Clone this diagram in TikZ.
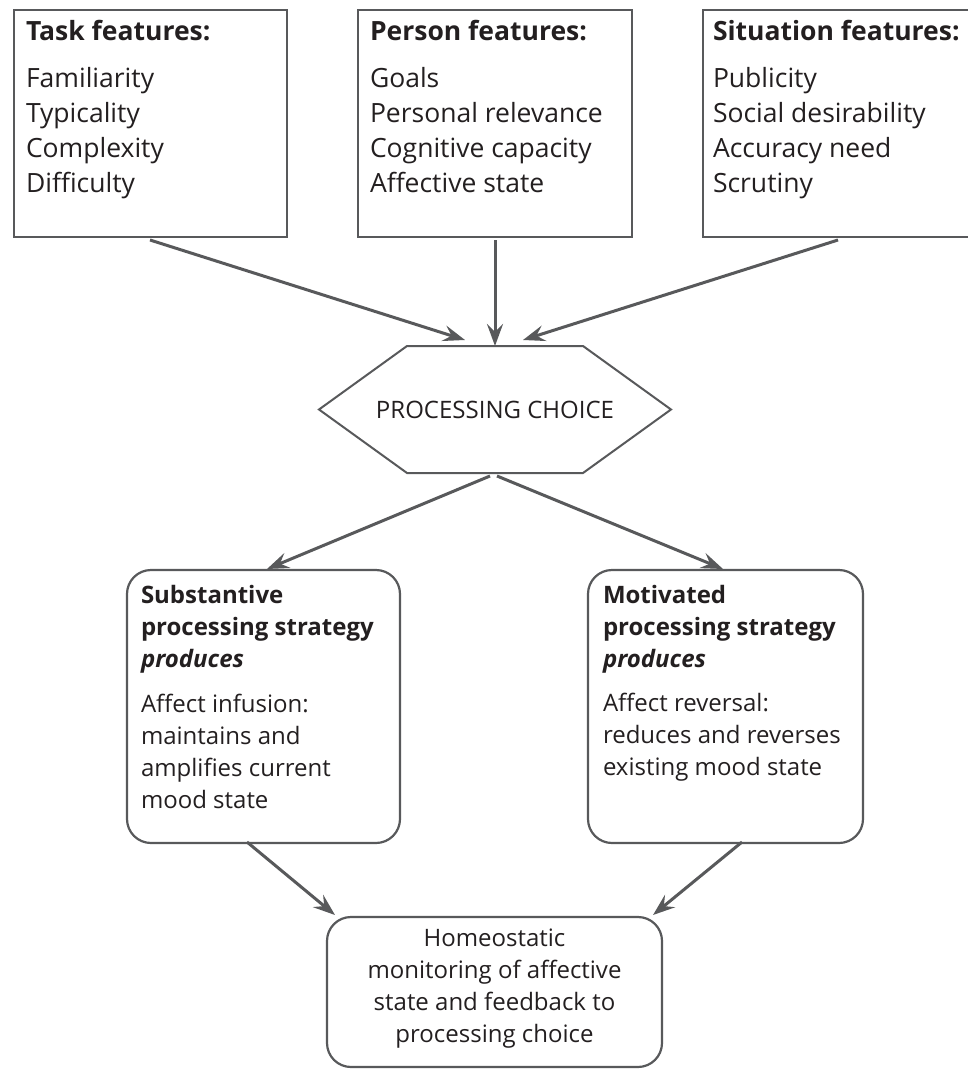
\documentclass[tikz,border=0pt]{standalone}
\usepackage{fontspec}
\setmainfont{Open Sans}
\usetikzlibrary{arrows.meta,calc}
\definecolor{ink}{HTML}{231F20}
\definecolor{rule}{HTML}{58595B}
\begin{document}
\begin{tikzpicture}[x=1pt,y=-1pt,
  every node/.style={text=ink, inner sep=0pt, outer sep=0pt},
  featbox/.style={draw=rule, line width=2.2pt, rectangle, anchor=north west},
  roundbox/.style={draw=rule, line width=2.2pt, rectangle, rounded corners=24pt, anchor=north west},
  txt/.style={font=\fontsize{26.5pt}{35pt}\selectfont, align=left, anchor=base west},
  txtb/.style={font=\fontsize{26.5pt}{35pt}\selectfont\bfseries, align=left, anchor=base west},
  mid/.style={font=\fontsize{24pt}{32pt}\selectfont, align=left, anchor=base west},
  midb/.style={font=\fontsize{24pt}{32pt}\selectfont\bfseries, align=left, anchor=base west},
  flow/.style={draw=rule, line width=3pt, -{Stealth[length=22pt,width=16pt,inset=8pt]}}
]
\useasboundingbox (0,0) rectangle (968,1070);

% feature boxes
\node[featbox, minimum width=273pt, minimum height=227pt] (task) at (14,10) {};
\node[featbox, minimum width=274pt, minimum height=227pt] (person) at (358,10) {};
\node[featbox, minimum width=290pt, minimum height=227pt] (situation) at (703,10) {};

% multi-line blocks are placed by the baseline of their last line
\node[txtb] (taskT) at (26,41) {Task features:};
\node[txt] (taskL) at (26,192) {Familiarity\\Typicality\\Complexity\\Difficulty};
\node[txtb] (personT) at (370,41) {Person features:};
\node[txt] (personL) at (370,192) {Goals\\Personal relevance\\Cognitive capacity\\Affective state};
\node[txtb] (situationT) at (713,41) {Situation features:};
\node[txt] (situationL) at (713,192) {Publicity\\Social desirability\\Accuracy need\\Scrutiny};

% processing choice hexagon
\node[minimum width=352pt, minimum height=127pt, font=\fontsize{24pt}{30pt}\selectfont] (choice) at (495,409.5) {PROCESSING CHOICE};
\draw[rule, line width=2pt, line join=miter]
  (choice.west) -- ([xshift=88pt]choice.north west) -- ([xshift=-88pt]choice.north east)
  -- (choice.east) -- ([xshift=-88pt]choice.south east) -- ([xshift=88pt]choice.south west) -- cycle;

% strategy boxes
\node[roundbox, minimum width=273pt, minimum height=273pt] (subst) at (127,570) {};
\node[roundbox, minimum width=275pt, minimum height=273pt] (motiv) at (588,570) {};

\node[midb] (substT) at (141,667) {Substantive\\processing strategy\\\textit{produces}};
\node[mid] (substL) at (141,808) {Affect infusion:\\maintains and\\amplifies current\\mood state};
\node[midb] (motivT) at (603,667) {Motivated\\processing strategy\\\textit{produces}};
\node[mid] (motivL) at (603,775) {Affect reversal:\\reduces and reverses\\existing mood state};

% monitoring box
\node[roundbox, minimum width=335pt, minimum height=150pt] (homeo) at (327,917) {};
\node[font=\fontsize{24pt}{31.7pt}\selectfont, align=center, anchor=base] (homeoT) at (494.5,1042)
  {Homeostatic\\monitoring of affective\\state and feedback to\\processing choice};

% connectors
\draw[flow] ([xshift=136pt,yshift=-3pt]task.south west) -- ([xshift=-30pt,yshift=6pt]choice.north);
\draw[flow] ([yshift=-3pt]person.south -| choice.north) -- (choice.north);
\draw[flow] ([xshift=135pt,yshift=-3pt]situation.south west) -- ([xshift=28pt,yshift=6pt]choice.north);

\draw[flow] ([xshift=-5pt,yshift=-3pt]choice.south) -- ([xshift=140pt,yshift=1pt]subst.north west);
\draw[flow] ([xshift=2pt,yshift=-3pt]choice.south) -- ([xshift=135pt,yshift=1pt]motiv.north west);

\draw[flow] ([xshift=120pt,yshift=1pt]subst.south west) -- ([xshift=8pt,yshift=2pt]homeo.north west);
\draw[flow] ([xshift=154pt,yshift=1pt]motiv.south west) -- ([xshift=-9pt,yshift=2pt]homeo.north east);
\end{tikzpicture}
\end{document}
